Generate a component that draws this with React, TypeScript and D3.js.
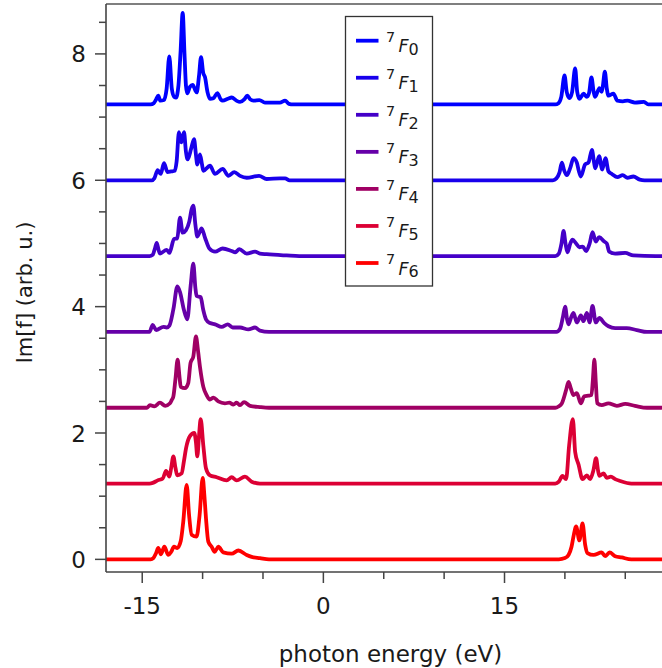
import React from "react";
import * as d3 from "d3";

// 7F_J multiplet labels, vertical offsets and line colours
const levels = ["0", "1", "2", "3", "4", "5", "6"];
const offsets = [7.2, 6.0, 4.8, 3.6, 2.4, 1.2, 0];
const colors = ["#0000ff", "#1800ec", "#4400c8", "#6600a8", "#a00064", "#dc0034", "#ff0000"];

// Im[f] spectra: [photon energy (eV), intensity above the curve's own baseline]
const f0 = [
  [-18, 0], [-14.3, 0], [-14.05, 0.02], [-13.85, 0.08], [-13.67, 0.14], [-13.5, 0.06], [-13.2, 0.07],
  [-12.98, 0.25], [-12.76, 0.76], [-12.55, 0.25], [-12.35, 0.12], [-12.2, 0.11], [-12.0, 0.3],
  [-11.82, 0.85], [-11.65, 1.45], [-11.5, 0.8], [-11.38, 0.3], [-11.27, 0.175], [-11.05, 0.28],
  [-10.82, 0.31], [-10.6, 0.22], [-10.49, 0.19], [-10.3, 0.45], [-10.13, 0.75], [-9.95, 0.5],
  [-9.8, 0.43], [-9.6, 0.2], [-9.39, 0.09], [-9.1, 0.1], [-8.78, 0.18], [-8.5, 0.08], [-8.34, 0.06],
  [-7.9, 0.09], [-7.59, 0.11], [-7.2, 0.06], [-6.9, 0.04], [-6.55, 0.08], [-6.3, 0.14], [-6.05, 0.08],
  [-5.8, 0.06], [-5.3, 0.07], [-4.84, 0.03], [-3.6, 0.03], [-3.17, 0.06], [-2.85, 0.01], [-2.5, 0],
  [19.2, 0], [19.47, 0.02], [19.7, 0.12], [19.97, 0.46], [20.15, 0.2], [20.38, 0.1], [20.6, 0.2],
  [20.85, 0.57], [21.02, 0.2], [21.21, 0.09], [21.54, 0.17], [21.82, 0.12], [22.0, 0.18], [22.2, 0.43],
  [22.38, 0.2], [22.5, 0.12], [22.86, 0.26], [23.05, 0.2], [23.15, 0.3], [23.31, 0.52], [23.47, 0.25],
  [23.61, 0.14], [24.02, 0.17], [24.35, 0.06], [24.8, 0.05], [25.18, 0.06], [25.8, 0.03], [26.55, 0.04],
  [26.9, 0], [28, 0],
];
const f1 = [
  [-18, 0], [-14.2, 0], [-14.0, 0.03], [-13.72, 0.16], [-13.47, 0.1], [-13.2, 0.27], [-12.9, 0.13],
  [-12.6, 0.14], [-12.3, 0.15], [-12.15, 0.3], [-11.96, 0.76], [-11.77, 0.6], [-11.54, 0.76],
  [-11.38, 0.45], [-11.24, 0.33], [-10.95, 0.5], [-10.71, 0.65], [-10.55, 0.4], [-10.44, 0.25],
  [-10.22, 0.41], [-10.05, 0.25], [-9.94, 0.15], [-9.39, 0.23], [-8.97, 0.1], [-8.34, 0.18],
  [-7.86, 0.07], [-7.37, 0.13], [-6.9, 0.07], [-6.35, 0.04], [-5.33, 0.07], [-4.7, 0.02], [-3.6, 0.03],
  [-3.17, 0.03], [-2.8, 0],
  [19.0, 0], [19.3, 0.03], [19.55, 0.12], [19.75, 0.28], [19.95, 0.15], [20.16, 0.08], [20.45, 0.2],
  [20.71, 0.35], [20.99, 0.28], [21.15, 0.15], [21.32, 0.06], [21.67, 0.25], [21.95, 0.28],
  [22.24, 0.48], [22.4, 0.3], [22.51, 0.19], [22.84, 0.38], [23.09, 0.17], [23.36, 0.35],
  [23.61, 0.14], [23.89, 0.1], [24.35, 0.05], [24.79, 0.08], [25.18, 0.04], [25.67, 0.06],
  [26.2, 0.01], [26.6, 0], [28, 0],
];
const f2 = [
  [-18, 0], [-14.4, 0], [-14.13, 0.02], [-13.95, 0.12], [-13.8, 0.21], [-13.65, 0.1], [-13.53, 0.04],
  [-12.97, 0.1], [-12.75, 0.05], [-12.37, 0.27], [-12.1, 0.28], [-11.87, 0.61], [-11.65, 0.37],
  [-11.38, 0.41], [-11.1, 0.55], [-10.9, 0.75], [-10.77, 0.8], [-10.6, 0.5], [-10.44, 0.31],
  [-10.08, 0.44], [-9.8, 0.29], [-9.44, 0.12], [-8.97, 0.07], [-8.34, 0.12], [-7.59, 0.08],
  [-7.3, 0.06], [-6.96, 0.11], [-6.35, 0.04], [-5.66, 0.07], [-5.25, 0.04], [-4.7, 0.03],
  [-3.04, 0.01], [-2.0, 0],
  [19.2, 0], [19.5, 0.04], [19.72, 0.2], [19.89, 0.4], [20.05, 0.2], [20.21, 0.06], [20.45, 0.2],
  [20.63, 0.26], [20.93, 0.2], [21.2, 0.14], [21.48, 0.15], [21.76, 0.08], [22.05, 0.2], [22.29, 0.38],
  [22.56, 0.23], [22.84, 0.3], [23.26, 0.23], [23.47, 0.2], [23.67, 0.07], [24.16, 0.04],
  [24.99, 0.05], [25.67, 0.01], [27.5, 0], [28, 0],
];
const f3 = [
  [-18, 0], [-14.4, 0], [-14.13, 0.11], [-13.85, 0.03], [-13.24, 0.08], [-12.97, 0.07], [-12.75, 0.1],
  [-12.42, 0.36], [-12.09, 0.72], [-11.87, 0.63], [-11.55, 0.35], [-11.27, 0.2], [-10.99, 0.73],
  [-10.77, 1.08], [-10.6, 0.7], [-10.5, 0.57], [-10.16, 0.55], [-9.95, 0.35], [-9.72, 0.2],
  [-9.39, 0.14], [-8.97, 0.12], [-8.42, 0.08], [-7.92, 0.12], [-7.51, 0.07], [-6.9, 0.07],
  [-6.21, 0.04], [-5.66, 0.07], [-5.25, 0.02], [-4.5, 0],
  [19.3, 0], [19.6, 0.05], [19.85, 0.25], [20.02, 0.4], [20.18, 0.2], [20.3, 0.12], [20.5, 0.22],
  [20.71, 0.3], [20.99, 0.15], [21.32, 0.26], [21.54, 0.17], [21.82, 0.3], [22.04, 0.15],
  [22.29, 0.41], [22.56, 0.15], [22.86, 0.22], [23.26, 0.14], [23.61, 0.09], [24.16, 0.06],
  [25.12, 0.06], [25.95, 0.03], [26.8, 0], [28, 0],
];
const f4 = [
  [-18, 0], [-14.6, 0], [-14.36, 0.04], [-14.0, 0.02], [-13.53, 0.08], [-13.1, 0.03], [-12.7, 0.07],
  [-12.56, 0.12], [-12.42, 0.18], [-12.25, 0.45], [-12.07, 0.76], [-11.92, 0.5], [-11.81, 0.33],
  [-11.46, 0.31], [-11.19, 0.39], [-11.0, 0.71], [-10.77, 0.81], [-10.55, 1.13], [-10.38, 0.9],
  [-10.22, 0.65], [-9.94, 0.33], [-9.67, 0.2], [-9.39, 0.13], [-9.1, 0.16], [-8.7, 0.1],
  [-8.15, 0.07], [-7.79, 0.08], [-7.45, 0.05], [-7.18, 0.08], [-6.9, 0.04], [-6.57, 0.09],
  [-6.07, 0.03], [-5.25, 0.01], [-4.5, 0],
  [19.2, 0], [19.47, 0.02], [19.75, 0.07], [20.1, 0.28], [20.3, 0.41], [20.5, 0.3], [20.71, 0.2],
  [20.99, 0.23], [21.32, 0.07], [21.6, 0.18], [21.95, 0.19], [22.2, 0.2], [22.32, 0.45],
  [22.44, 0.76], [22.56, 0.4], [22.68, 0.07], [23.05, 0.04], [23.6, 0.07], [24.3, 0.03],
  [24.99, 0.06], [25.8, 0.03], [26.8, 0], [28, 0],
];
const f5 = [
  [-18, 0], [-14.4, 0], [-14.13, 0.01], [-13.72, 0.05], [-13.3, 0.08], [-13.03, 0.2], [-12.75, 0.11],
  [-12.6, 0.25], [-12.42, 0.43], [-12.25, 0.25], [-12.1, 0.13], [-11.74, 0.16], [-11.55, 0.35],
  [-11.37, 0.56], [-11.05, 0.75], [-10.69, 0.8], [-10.55, 0.65], [-10.44, 0.43], [-10.3, 0.75],
  [-10.16, 1.02], [-9.94, 0.6], [-9.72, 0.24], [-9.39, 0.13], [-8.84, 0.1], [-8.01, 0.05],
  [-7.59, 0.1], [-7.18, 0.05], [-6.49, 0.11], [-5.94, 0.03], [-5.25, 0],
  [19.2, 0], [19.5, 0.03], [19.8, 0.12], [20.1, 0.07], [20.35, 0.6], [20.66, 1.02], [20.85, 0.5],
  [21.13, 0.3], [21.46, 0.07], [21.82, 0.13], [22.09, 0.07], [22.35, 0.2], [22.58, 0.4],
  [22.75, 0.2], [22.86, 0.12], [23.2, 0.16], [23.47, 0.09], [23.81, 0.11], [24.16, 0.07],
  [24.58, 0.04], [25.5, 0], [28, 0],
];
const f6 = [
  [-18, 0], [-14.3, 0], [-14.08, 0.02], [-13.85, 0.1], [-13.67, 0.18], [-13.45, 0.08], [-13.17, 0.2],
  [-12.84, 0.07], [-12.6, 0.12], [-12.37, 0.2], [-12.1, 0.18], [-11.81, 0.29], [-11.6, 0.6],
  [-11.32, 1.18], [-11.12, 0.7], [-10.91, 0.39], [-10.5, 0.36], [-10.25, 0.7], [-9.99, 1.29],
  [-9.85, 1.0], [-9.72, 0.65], [-9.53, 0.28], [-9.25, 0.2], [-9.0, 0.12], [-8.7, 0.2], [-8.29, 0.11],
  [-7.59, 0.09], [-7.04, 0.14], [-6.35, 0.07], [-5.94, 0.04], [-5.25, 0.02], [-4.5, 0],
  [19.5, 0], [20.0, 0.02], [20.3, 0.07], [20.55, 0.2], [20.71, 0.36], [20.93, 0.52], [21.2, 0.3],
  [21.46, 0.57], [21.68, 0.23], [21.87, 0.1], [22.37, 0.07], [23.05, 0.11], [23.33, 0.05],
  [23.7, 0.11], [24.16, 0.05], [24.7, 0.03], [25.5, 0], [28, 0],
];
const spectra = [f0, f1, f2, f3, f4, f5, f6];

// axis ticks
const xTicks = [-15, -10, -5, 0, 5, 10, 15, 20, 25];
const xTickLabels = ["-15", "", "", "0", "", "", "15", "", ""];
const yTicks = [0, 0.5, 1, 1.5, 2, 2.5, 3, 3.5, 4, 4.5, 5, 5.5, 6, 6.5, 7, 7.5, 8, 8.5];
const yTickLabels = ["0", "", "", "", "2", "", "", "", "4", "", "", "", "6", "", "", "", "8", ""];

const W = 662;
const H = 668;
const FONT = "'DejaVu Sans', sans-serif";

export default function App() {
  const x = d3.scaleLinear().domain([-18, 28]).range([106, 661.5]);
  const y = d3.scaleLinear().domain([-0.2, 8.79]).range([572, 4]);
  const left = x.range()[0];
  const bottom = y.range()[0];
  const top = y.range()[1];

  const makeLine = (offset: number) =>
    d3
      .line<number[]>()
      .x((d) => x(d[0]))
      .y((d) => y(offset + d[1]))
      .curve(d3.curveMonotoneX);

  const legendY = (i: number) => 40.7 + i * 37.05;

  return (
    <div style={{ position: "absolute", left: 0, top: 0 }}>
      <svg width={W} height={H} style={{ display: "block", background: "#fff" }}>
        <defs>
          <clipPath id="plotArea">
            <rect x={left} y={top} width={W - left} height={bottom - top} />
          </clipPath>
        </defs>

        {/* spectra */}
        <g clipPath="url(#plotArea)">
          {spectra.map((s, i) => (
            <path
              key={i}
              d={makeLine(offsets[i])(s) || ""}
              fill="none"
              stroke={colors[i]}
              strokeWidth={3.8}
              strokeLinejoin="round"
              strokeLinecap="round"
            />
          ))}
        </g>

        {/* frame */}
        <line x1={left} x2={W} y1={top} y2={top} stroke="#555" strokeWidth={1.6} />
        <line x1={left} x2={left} y1={top} y2={bottom} stroke="#444" strokeWidth={1.6} />
        <line x1={left} x2={W} y1={bottom} y2={bottom} stroke="#444" strokeWidth={1.6} />

        {/* x axis */}
        {xTicks.map((t, i) => (
          <g key={t}>
            <line
              x1={x(t)}
              x2={x(t)}
              y1={bottom}
              y2={bottom + (xTickLabels[i] ? 11 : 7)}
              stroke="#444"
              strokeWidth={1.5}
            />
            {xTickLabels[i] && (
              <text x={x(t)} y={614} textAnchor="middle" fontFamily={FONT} fontSize={23} fill="#1a1a1a">
                {xTickLabels[i]}
              </text>
            )}
          </g>
        ))}
        <text x={390.5} y={662} textAnchor="middle" fontFamily={FONT} fontSize={23} fill="#1a1a1a">
          photon energy (eV)
        </text>

        {/* y axis */}
        {yTicks.map((t, i) => (
          <g key={t}>
            <line
              x1={left - (yTickLabels[i] ? 11 : 7)}
              x2={left}
              y1={y(t)}
              y2={y(t)}
              stroke="#444"
              strokeWidth={1.5}
            />
            {yTickLabels[i] && (
              <text x={86} y={y(t) + 8.5} textAnchor="end" fontFamily={FONT} fontSize={23} fill="#1a1a1a">
                {yTickLabels[i]}
              </text>
            )}
          </g>
        ))}
        <text
          transform="translate(31.5,292.5) rotate(-90)"
          textAnchor="middle"
          fontFamily={FONT}
          fontSize={21}
          fill="#1a1a1a"
        >
          Im[f] (arb. u.)
        </text>

        {/* legend */}
        <rect x={345.5} y={16.5} width={87} height={269.5} fill="#fff" stroke="#333" strokeWidth={1.3} />
        {levels.map((lv, i) => {
          const ly = legendY(i);
          return (
            <g key={lv}>
              <line x1={356} x2={378.5} y1={ly} y2={ly} stroke={colors[i]} strokeWidth={3.8} />
              <text x={386} y={ly + 0.8} fontFamily={FONT} fontSize={14.5} fill="#1a1a1a">
                7
              </text>
              <text x={398.5} y={ly + 11.5} fontFamily={FONT} fontSize={17.5} fontStyle="italic" fill="#1a1a1a">
                F
              </text>
              <text x={408.5} y={ly + 14} fontFamily={FONT} fontSize={16} fill="#1a1a1a">
                {lv}
              </text>
            </g>
          );
        })}
      </svg>
    </div>
  );
}
